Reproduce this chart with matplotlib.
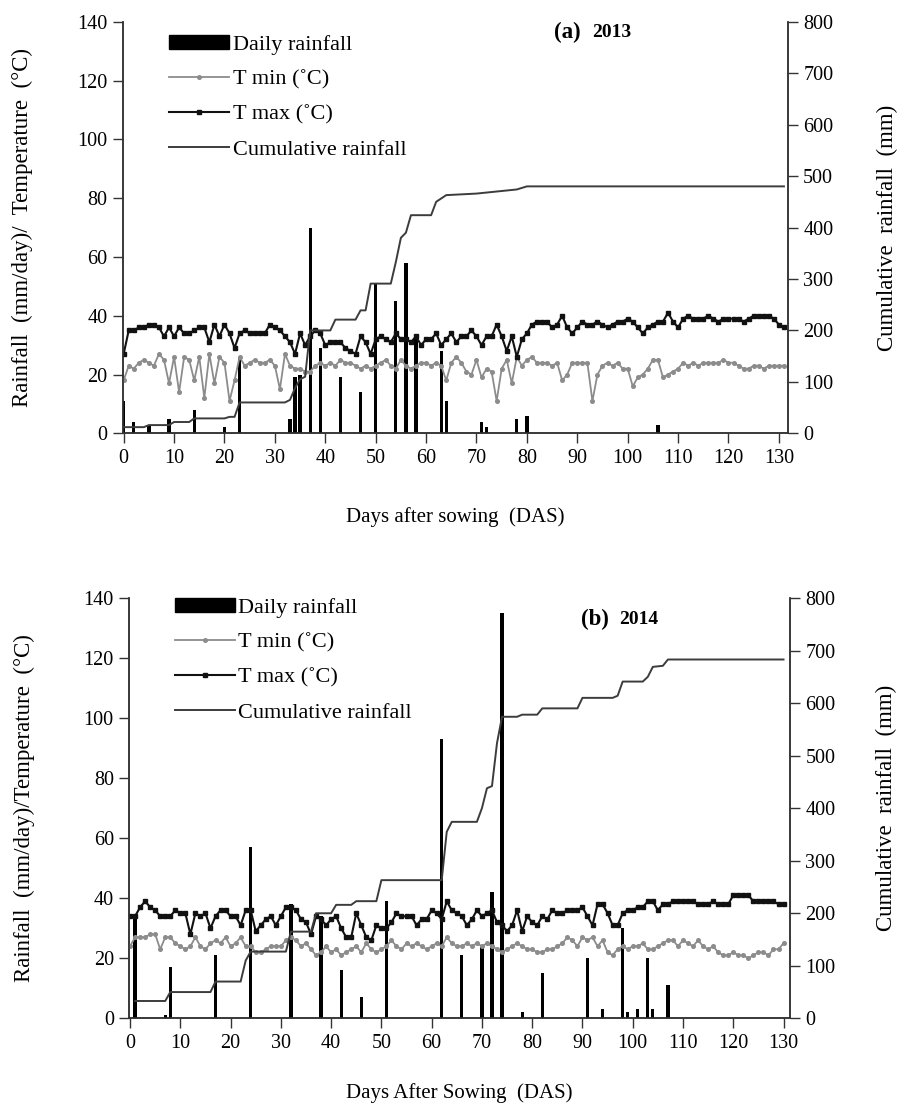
import numpy as np
import matplotlib
matplotlib.use('Agg')
import matplotlib.pyplot as plt
from matplotlib.lines import Line2D
from matplotlib.patches import Patch

plt.rcParams['font.family'] = ['Liberation Serif', 'DejaVu Serif']

# ---- 2013 season ----
rain_a_days = [0, 2, 5, 9, 14, 20, 23, 33, 34, 35, 37, 39, 43, 47, 50, 54, 56, 58, 63, 64, 71, 72, 78, 80, 106]
rain_a_vals = [11, 4, 3, 5, 8, 2, 26, 5, 19, 20, 70, 29, 19, 14, 51, 45, 58, 33, 28, 11, 4, 2, 5, 6, 3]

tmax_a = [27, 35, 35, 36, 36, 37, 37, 36, 33, 36,
          33, 36, 34, 34, 35, 36, 36, 31, 37, 33,
          37, 34, 29, 34, 35, 34, 34, 34, 34, 37,
          36, 35, 33, 31, 27, 34, 30, 33, 35, 34,
          30, 31, 31, 31, 29, 28, 27, 33, 31, 27,
          32, 33, 32, 31, 34, 32, 32, 31, 33, 30,
          32, 32, 34, 30, 32, 34, 31, 33, 33, 35,
          33, 30, 33, 33, 37, 33, 28, 33, 26, 32,
          34, 37, 38, 38, 38, 36, 37, 40, 36, 34,
          36, 38, 37, 37, 38, 37, 36, 37, 38, 38,
          39, 38, 36, 34, 36, 37, 38, 38, 41, 38,
          36, 39, 40, 39, 39, 39, 40, 39, 38, 39,
          39, 39, 39, 38, 39, 40, 40, 40, 40, 39,
          37, 36]

tmin_a = [18, 23, 22, 24, 25, 24, 23, 27, 25, 17,
          26, 14, 26, 25, 18, 26, 12, 27, 17, 26,
          24, 11, 18, 26, 23, 24, 25, 24, 24, 25,
          23, 15, 27, 23, 22, 22, 21, 21, 23, 24,
          23, 24, 23, 25, 24, 24, 23, 22, 23, 22,
          23, 24, 25, 23, 22, 25, 23, 22, 23, 24,
          24, 23, 24, 23, 18, 24, 26, 24, 21, 20,
          25, 19, 22, 21, 11, 22, 25, 17, 26, 23,
          25, 26, 24, 24, 24, 23, 24, 18, 20, 24,
          24, 24, 24, 11, 20, 23, 24, 23, 24, 22,
          22, 16, 19, 20, 22, 25, 25, 19, 20, 21,
          22, 24, 23, 24, 23, 24, 24, 24, 24, 25,
          24, 24, 23, 22, 22, 23, 23, 22, 23, 23,
          23, 23]

cum_a = [(0, 12), (4, 12), (5, 16), (9, 16), (10, 22), (13, 22), (14, 29), (20, 29),
         (21, 32), (22, 32), (23, 60), (32, 60), (33, 65), (34, 88), (35, 105), (36, 110),
         (37, 200), (41, 200), (42, 221), (46, 221), (47, 239), (48, 239), (49, 291),
         (53, 291), (54, 333), (55, 380), (56, 390), (57, 424), (61, 424), (62, 450),
         (64, 463), (70, 466), (73, 469), (76, 472), (78, 474), (80, 480), (131, 480)]

# ---- 2014 season ----
rain_b_days = [1, 7, 8, 17, 24, 32, 38, 42, 46, 51, 62, 66, 70, 72, 74, 78, 82, 91, 94, 98, 99, 101, 103, 104, 107]
rain_b_vals = [33, 1, 17, 21, 57, 38, 34, 16, 7, 39, 93, 21, 24, 42, 135, 2, 15, 20, 3, 30, 2, 3, 20, 3, 11]

tmax_b = [34, 34, 37, 39, 37, 36, 34, 34, 34, 36,
          35, 35, 28, 35, 34, 35, 30, 34, 36, 36,
          34, 34, 31, 36, 36, 29, 31, 33, 34, 31,
          34, 37, 37, 36, 33, 32, 28, 34, 33, 31,
          33, 34, 30, 27, 27, 35, 31, 27, 26, 31,
          30, 30, 32, 35, 34, 34, 34, 31, 33, 33,
          36, 35, 33, 39, 36, 35, 34, 31, 33, 36,
          34, 35, 36, 32, 31, 29, 31, 36, 29, 34,
          32, 31, 34, 33, 36, 35, 35, 36, 36, 36,
          37, 34, 31, 38, 38, 35, 31, 31, 35, 36,
          36, 37, 37, 39, 39, 36, 38, 38, 39, 39,
          39, 39, 39, 38, 38, 38, 39, 38, 38, 38,
          41, 41, 41, 41, 39, 39, 39, 39, 39, 38,
          38]

tmin_b = [24, 27, 27, 27, 28, 28, 23, 27, 27, 25,
          24, 23, 24, 27, 24, 23, 25, 26, 25, 27,
          24, 25, 27, 24, 24, 22, 22, 23, 24, 24,
          24, 26, 27, 26, 24, 25, 23, 21, 22, 24,
          22, 23, 21, 22, 23, 24, 22, 25, 23, 22,
          23, 24, 26, 24, 23, 25, 24, 25, 24, 23,
          24, 25, 24, 27, 25, 24, 24, 25, 24, 25,
          24, 25, 24, 23, 22, 23, 24, 25, 24, 23,
          23, 22, 22, 23, 23, 24, 25, 27, 26, 24,
          27, 26, 27, 24, 26, 22, 21, 23, 24, 23,
          24, 24, 25, 23, 23, 24, 25, 26, 26, 24,
          26, 25, 24, 26, 24, 23, 24, 22, 21, 21,
          22, 21, 21, 20, 21, 22, 22, 21, 23, 23,
          25]

cum_b = [(1, 33), (7, 33), (8, 50), (16, 50), (17, 70), (22, 70), (23, 110), (24, 127),
         (31, 127), (32, 165), (36, 165), (37, 200), (40, 200), (41, 216), (44, 216),
         (45, 223), (49, 223), (50, 263), (62, 263), (63, 355), (64, 374), (69, 374),
         (70, 400), (71, 438), (72, 442), (73, 524), (74, 574), (77, 574), (78, 578),
         (81, 578), (82, 590), (89, 590), (90, 610), (96, 610), (97, 614), (98, 641),
         (102, 641), (103, 650), (104, 669), (106, 671), (107, 683), (130, 683)]

tick_days = list(range(0, 131, 10))

TMIN_C = '#8c8c8c'
TMAX_C = '#111111'
CUM_C = '#3c3c3c'
SPINE_C = '#333333'
FS = 14.5


def panel(ax, rdays, rvals, tmin, tmax, cum, xmax, xlabel, ylabel, letter, year,
          ttl_x, ttl_y, leg_anchor, ylab_x, rlab_x, xlab_y):
    days = np.arange(len(tmax))
    ax.bar(rdays, rvals, width=0.65, color='black', zorder=3)
    ax.plot(days, tmin, color=TMIN_C, lw=1.3, marker='o', ms=2.6,
            mfc=TMIN_C, mec=TMIN_C, zorder=4)
    ax.plot(days, tmax, color=TMAX_C, lw=1.5, marker='s', ms=3.0,
            mfc=TMAX_C, mec=TMAX_C, zorder=4)
    ax2 = ax.twinx()
    cd, cv = zip(*cum)
    ax2.plot(cd, cv, color=CUM_C, lw=1.4, zorder=5)

    ax.set_xlim(-0.2, xmax)
    ax.set_ylim(0, 140)
    ax2.set_ylim(0, 800)
    ax.set_xticks(tick_days)
    ax.set_yticks(range(0, 141, 20))
    ax2.set_yticks(range(0, 801, 100))

    for a in (ax, ax2):
        a.spines['top'].set_visible(False)
        for s in ('left', 'right', 'bottom'):
            a.spines[s].set_color(SPINE_C)
            a.spines[s].set_linewidth(1.1)
        a.tick_params(direction='out', length=7, width=1.0, color=SPINE_C,
                      labelsize=FS, pad=4)

    ax.set_xlabel(xlabel, fontsize=15)
    ax.xaxis.set_label_coords(0.5, xlab_y)
    ax.set_ylabel(ylabel, fontsize=16.5)
    ax.yaxis.set_label_coords(ylab_x, 0.5)
    ax2.set_ylabel('Cumulative  rainfall  (mm)', fontsize=16.5, rotation=90)
    ax2.yaxis.set_label_coords(rlab_x, 0.5)

    ax.text(ttl_x, ttl_y, letter, transform=ax.transAxes, fontsize=16.5,
            fontweight='bold', ha='left', va='center')
    ax.text(ttl_x + 0.058, ttl_y, year, transform=ax.transAxes, fontsize=14,
            fontweight='bold', ha='left', va='center')

    handles = [Patch(facecolor='black', edgecolor='black'),
               Line2D([], [], color=TMIN_C, lw=1.3, marker='o', ms=2.6, mfc=TMIN_C, mec=TMIN_C),
               Line2D([], [], color=TMAX_C, lw=1.5, marker='s', ms=3.0),
               Line2D([], [], color=CUM_C, lw=1.4)]
    labels = ['Daily rainfall', 'T min (\u02daC)', 'T max (\u02daC)', 'Cumulative rainfall']
    ax2.legend(handles, labels, loc='upper left', bbox_to_anchor=leg_anchor,
               frameon=False, fontsize=16, handlelength=2.7,
               handleheight=0.6, handletextpad=0.15, labelspacing=0.68,
               borderaxespad=0)
    return ax2


fig = plt.figure(figsize=(9.12, 11.04), dpi=100)
ax_a = fig.add_axes([0.1345, 0.6075, 0.7295, 0.3728])
ax_b = fig.add_axes([0.1415, 0.0776, 0.7248, 0.3807])

panel(ax_a, rain_a_days, rain_a_vals, tmin_a, tmax_a, cum_a, 131.8,
      'Days after sowing  (DAS)', 'Rainfall  (mm/day)/  Temperature  (\u00b0C)',
      '(a)', '2013', 0.648, 0.975, (0.057, 0.99), -0.135, 1.133, -0.18)
panel(ax_b, rain_b_days, rain_b_vals, tmin_b, tmax_b, cum_b, 131.3,
      'Days After Sowing  (DAS)', 'Rainfall  (mm/day)/Temperature  (\u00b0C)',
      '(b)', '2014', 0.683, 0.948, (0.056, 1.022), -0.142, 1.13, -0.155)

fig.savefig('out.png', dpi=100)
